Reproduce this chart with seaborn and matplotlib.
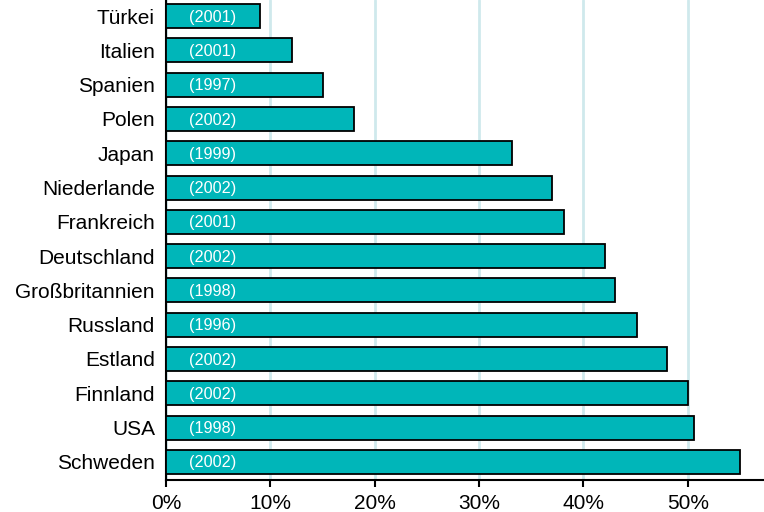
import matplotlib
matplotlib.use("Agg")
import matplotlib.pyplot as plt
import seaborn as sns
import pandas as pd
from matplotlib.ticker import FuncFormatter

countries = ["Türkei", "Italien", "Spanien", "Polen", "Japan", "Niederlande", "Frankreich",
             "Deutschland", "Großbritannien", "Russland", "Estland", "Finnland", "USA", "Schweden"]
values = [9.0, 12.1, 15.0, 18.0, 33.2, 37.0, 38.1, 42.1, 43.0, 45.1, 48.0, 50.0, 50.6, 55.0]
years = ["(2001)", "(2001)", "(1997)", "(2002)", "(1999)", "(2002)", "(2001)",
         "(2002)", "(1998)", "(1996)", "(2002)", "(2002)", "(1998)", "(2002)"]
xticks = [0, 10, 20, 30, 40, 50]

df = pd.DataFrame({"Land": countries, "Wert": values, "Jahr": years})

sns.set_style("white")
plt.rcParams["font.family"] = ["Liberation Sans", "DejaVu Sans"]

fig = plt.figure(figsize=(7.64, 5.12), dpi=100)
ax = fig.add_axes([166 / 764, 32 / 512, (764 - 166) / 764, 480 / 512])

sns.barplot(data=df, x="Wert", y="Land", orient="h", color="#00B6B9", saturation=1,
            edgecolor="black", linewidth=1.3, width=0.7, ax=ax, zorder=3)

for i, lab in enumerate(years):
    ax.text(2.2, i + 0.03, lab, color="white", fontsize=11.7, va="center", ha="left", zorder=4)

ax.set_xlim(0, 57.3)
ax.set_ylim(13.53, -0.47)
ax.set_xticks(xticks)
ax.xaxis.set_major_formatter(FuncFormatter(lambda v, p: f"{int(v)}%"))
ax.grid(axis="x", color="#cfe9ec", linewidth=2, zorder=0)
ax.grid(axis="y", visible=False)
ax.set_xlabel("")
ax.set_ylabel("")
for s in ["top", "right"]:
    ax.spines[s].set_visible(False)
for s in ["left", "bottom"]:
    ax.spines[s].set_color("black")
    ax.spines[s].set_linewidth(1.5)
ax.tick_params(axis="x", direction="out", length=5, width=1.5, color="black",
               labelsize=15, labelcolor="black", pad=5, bottom=True)
ax.tick_params(axis="y", length=0, labelsize=15, labelcolor="black", pad=8)

fig.savefig("out.png", dpi=100)
